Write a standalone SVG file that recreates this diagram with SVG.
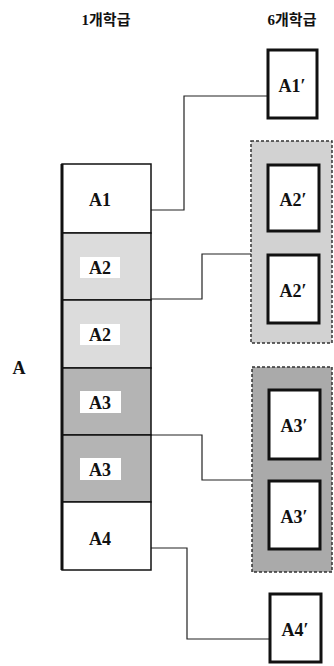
<svg xmlns="http://www.w3.org/2000/svg" width="334" height="666" viewBox="0 0 334 666">
<style>
.t{font-family:"Liberation Serif","Noto Sans CJK KR",serif;font-size:18px;font-weight:bold;fill:#111;text-anchor:middle}
.h{font-family:"Liberation Serif","Noto Sans CJK KR",serif;font-size:15px;font-weight:bold;fill:#111;text-anchor:middle}
.cell{stroke:#111;stroke-width:1.5}
.box{fill:#fff;stroke:#111;stroke-width:3}
.grp{stroke:#333;stroke-width:1.5;stroke-dasharray:3 2}
.lbl{fill:#fff}
.c{fill:none;stroke:#222;stroke-width:1.2}
</style>
<rect width="334" height="666" fill="#fff"/>
<g id="headers">
<text class="h" x="106" y="25">1개학급</text>
<text class="h" x="292" y="25">6개학급</text>
<text class="t" x="19" y="374">A</text>
</g>
<g id="connectors">
<polyline class="c" points="151,210 184,210 184,96 267,96"/>
<polyline class="c" points="151,299 202,299 202,254 251,254"/>
<polyline class="c" points="151,435 202,435 202,480 252,480"/>
<polyline class="c" points="151,548 187,548 187,639 269,639"/>
</g>
<g id="column">
<g id="c-A1"><rect class="cell" x="62" y="164" width="89" height="69" fill="#fff"/><text class="t" x="100" y="206">A1</text></g>
<g id="c-A2a"><rect class="cell" x="62" y="233" width="89" height="67" fill="#dcdcdc"/><rect class="lbl" x="80" y="257" width="40" height="21"/><text class="t" x="100" y="274">A2</text></g>
<g id="c-A2b"><rect class="cell" x="62" y="300" width="89" height="68" fill="#dcdcdc"/><rect class="lbl" x="80" y="324" width="40" height="21"/><text class="t" x="100" y="341">A2</text></g>
<g id="c-A3a"><rect class="cell" x="62" y="368" width="89" height="67" fill="#b4b4b4"/><rect class="lbl" x="80" y="391" width="41" height="22"/><text class="t" x="100" y="409">A3</text></g>
<g id="c-A3b"><rect class="cell" x="62" y="435" width="89" height="67" fill="#b4b4b4"/><rect class="lbl" x="80" y="458" width="41" height="22"/><text class="t" x="100" y="476">A3</text></g>
<g id="c-A4"><rect class="cell" x="62" y="502" width="89" height="68" fill="#fff"/><text class="t" x="100" y="545">A4</text></g>
<line x1="62" y1="164" x2="62" y2="570" stroke="#111" stroke-width="3"/>
</g>
<g id="n-A1p"><rect class="box" x="268" y="50" width="49" height="68"/><text class="t" x="292" y="92">A1′</text></g>
<g id="g-A2">
<rect class="grp" x="251" y="141" width="81" height="202" fill="#d2d2d2"/>
<g id="n-A2p1"><rect class="box" x="268" y="165" width="51" height="66"/><text class="t" x="293" y="206">A2′</text></g>
<g id="n-A2p2"><rect class="box" x="268" y="255" width="51" height="68"/><text class="t" x="293" y="297">A2′</text></g>
</g>
<g id="g-A3">
<rect class="grp" x="252" y="367" width="80" height="205" fill="#aaaaaa"/>
<g id="n-A3p1"><rect class="box" x="269" y="390" width="51" height="69"/><text class="t" x="294" y="432">A3′</text></g>
<g id="n-A3p2"><rect class="box" x="269" y="481" width="51" height="68"/><text class="t" x="294" y="523">A3′</text></g>
</g>
<g id="n-A4p"><rect class="box" x="270" y="594" width="51" height="68"/><text class="t" x="295" y="636">A4′</text></g>
</svg>
